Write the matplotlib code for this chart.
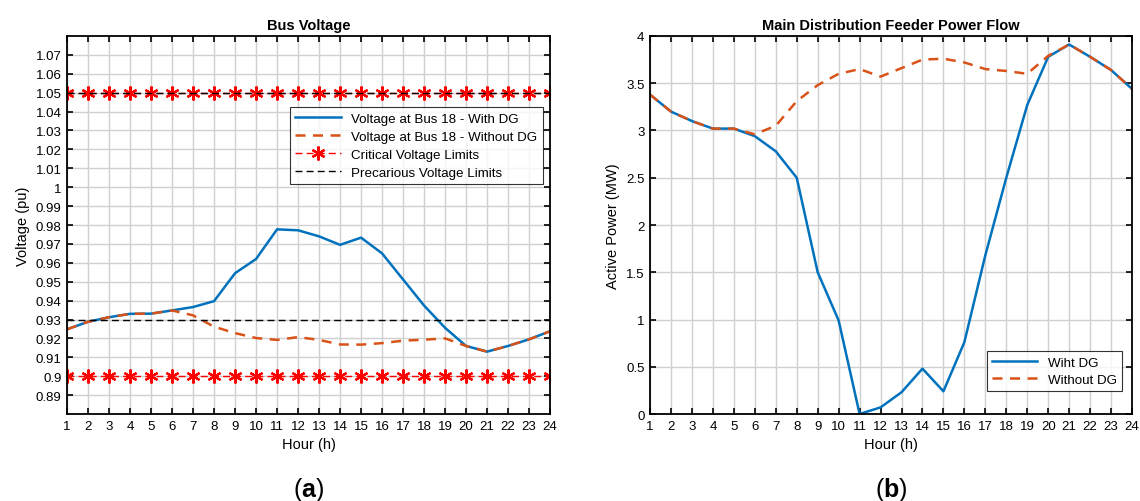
import numpy as np
import matplotlib
matplotlib.use("Agg")
import matplotlib.pyplot as plt

plt.rcParams['font.family'] = ['Liberation Sans', 'DejaVu Sans']
plt.rcParams['mathtext.fontset'] = 'custom'
plt.rcParams['mathtext.rm'] = 'Liberation Sans'
plt.rcParams['mathtext.bf'] = 'Liberation Sans:bold'

hours = list(range(1, 25))

# Bus 18 voltage (pu)
v_with_dg = [0.9248, 0.9288, 0.9312, 0.9330, 0.9331, 0.9348, 0.9366, 0.9397,
             0.9545, 0.9620, 0.9777, 0.9772, 0.9740, 0.9695, 0.9733, 0.9650,
             0.9512, 0.9374, 0.9256, 0.9160, 0.9130, 0.9160, 0.9195, 0.9238]
v_without_dg = [0.9248, 0.9288, 0.9312, 0.9330, 0.9331, 0.9348, 0.9322, 0.9262,
                0.9228, 0.9202, 0.9192, 0.9207, 0.9192, 0.9168, 0.9167, 0.9175,
                0.9188, 0.9193, 0.9200, 0.9160, 0.9130, 0.9160, 0.9195, 0.9238]
critical_limits = [0.90, 1.05]
precarious_limits = [0.93, 1.05]

# Main feeder active power (MW)
p_with_dg = [3.38, 3.20, 3.10, 3.02, 3.02, 2.94, 2.78, 2.50, 1.50, 0.99,
             0.00, 0.07, 0.23, 0.48, 0.24, 0.76, 1.68, 2.50, 3.27, 3.78,
             3.91, 3.78, 3.64, 3.44]
p_without_dg = [3.38, 3.20, 3.10, 3.02, 3.02, 2.96, 3.05, 3.31, 3.48, 3.60,
                3.65, 3.57, 3.66, 3.75, 3.76, 3.72, 3.65, 3.63, 3.60, 3.79,
                3.91, 3.78, 3.64, 3.44]

blue = '#0072BD'
orange = '#D95319'

fig = plt.figure(figsize=(11.4, 5.02), dpi=100)
ax1 = fig.add_axes([0.0588, 0.1733, 0.4237, 0.753])
ax2 = fig.add_axes([0.5702, 0.1733, 0.4228, 0.753])


def style_axes(ax):
    ax.grid(True, color='#D0D0D0', linewidth=1.0)
    ax.set_axisbelow(True)
    ax.tick_params(direction='in', top=True, right=True, length=4, width=1.2,
                   labelsize=9.5, pad=4)
    for s in ax.spines.values():
        s.set_linewidth(1.3)
    ax.set_xlim(1, 24)
    ax.set_xticks(hours)
    ax.set_xlabel('Hour (h)', fontsize=10.5)


# (a) Bus voltage
ax1.plot(hours, v_with_dg, color=blue, lw=1.8, label='Voltage at Bus 18 - With DG')
ax1.plot(hours, v_without_dg, color=orange, lw=1.8, ls=(0, (4, 3)),
         label='Voltage at Bus 18 - Without DG')
for i, lim in enumerate(critical_limits):
    ax1.plot(hours, [lim] * len(hours), color='red', lw=1.0, ls=(0, (5, 3)),
             marker=(6, 2, 0), markersize=10, markeredgewidth=1.6,
             label='Critical Voltage Limits' if i == 0 else None)
for i, lim in enumerate(precarious_limits):
    ax1.plot(hours, [lim] * len(hours), color='black', lw=1.0, ls=(0, (5, 3)),
             label='Precarious Voltage Limits' if i == 0 else None)
style_axes(ax1)
ax1.set_ylim(0.88, 1.08)
ax1.set_yticks(np.arange(0.89, 1.0751, 0.01))
ax1.set_yticklabels(['%g' % round(v, 2) for v in np.arange(0.89, 1.0751, 0.01)])
ax1.set_ylabel('Voltage (pu)', fontsize=10.5)
ax1.set_title('Bus Voltage', fontsize=10.5, fontweight='bold', pad=5)
leg1 = ax1.legend(loc='upper right', bbox_to_anchor=(0.985, 0.812), fontsize=9.6,
                  frameon=True, fancybox=False, edgecolor='black',
                  borderaxespad=0, handlelength=3.4, labelspacing=0.42)
leg1.get_frame().set_linewidth(0.8)

# (b) Feeder power flow
ax2.plot(hours, p_with_dg, color=blue, lw=1.8, label='Wiht DG')
ax2.plot(hours, p_without_dg, color=orange, lw=1.8, ls=(0, (4, 3)), label='Without DG')
style_axes(ax2)
ax2.set_ylim(0, 4)
ax2.set_yticks(np.arange(0, 4.01, 0.5))
ax2.set_yticklabels(['%g' % v for v in np.arange(0, 4.01, 0.5)])
ax2.set_ylabel('Active Power (MW)', fontsize=10.5)
ax2.set_title('Main Distribution Feeder Power Flow', fontsize=10.5,
              fontweight='bold', pad=5)
leg2 = ax2.legend(loc='lower right', bbox_to_anchor=(0.98, 0.06), fontsize=9.6,
                  frameon=True, fancybox=False, edgecolor='black',
                  borderaxespad=0, handlelength=3.4, labelspacing=0.35)
leg2.get_frame().set_linewidth(0.8)

# panel letters
for xc, letter in [(0.2706, 'a'), (0.7816, 'b')]:
    fig.text(xc, 0.01, r'($\mathbf{%s}$)' % letter, ha='center', va='baseline',
             fontsize=18)

fig.savefig('out.png', dpi=100)
